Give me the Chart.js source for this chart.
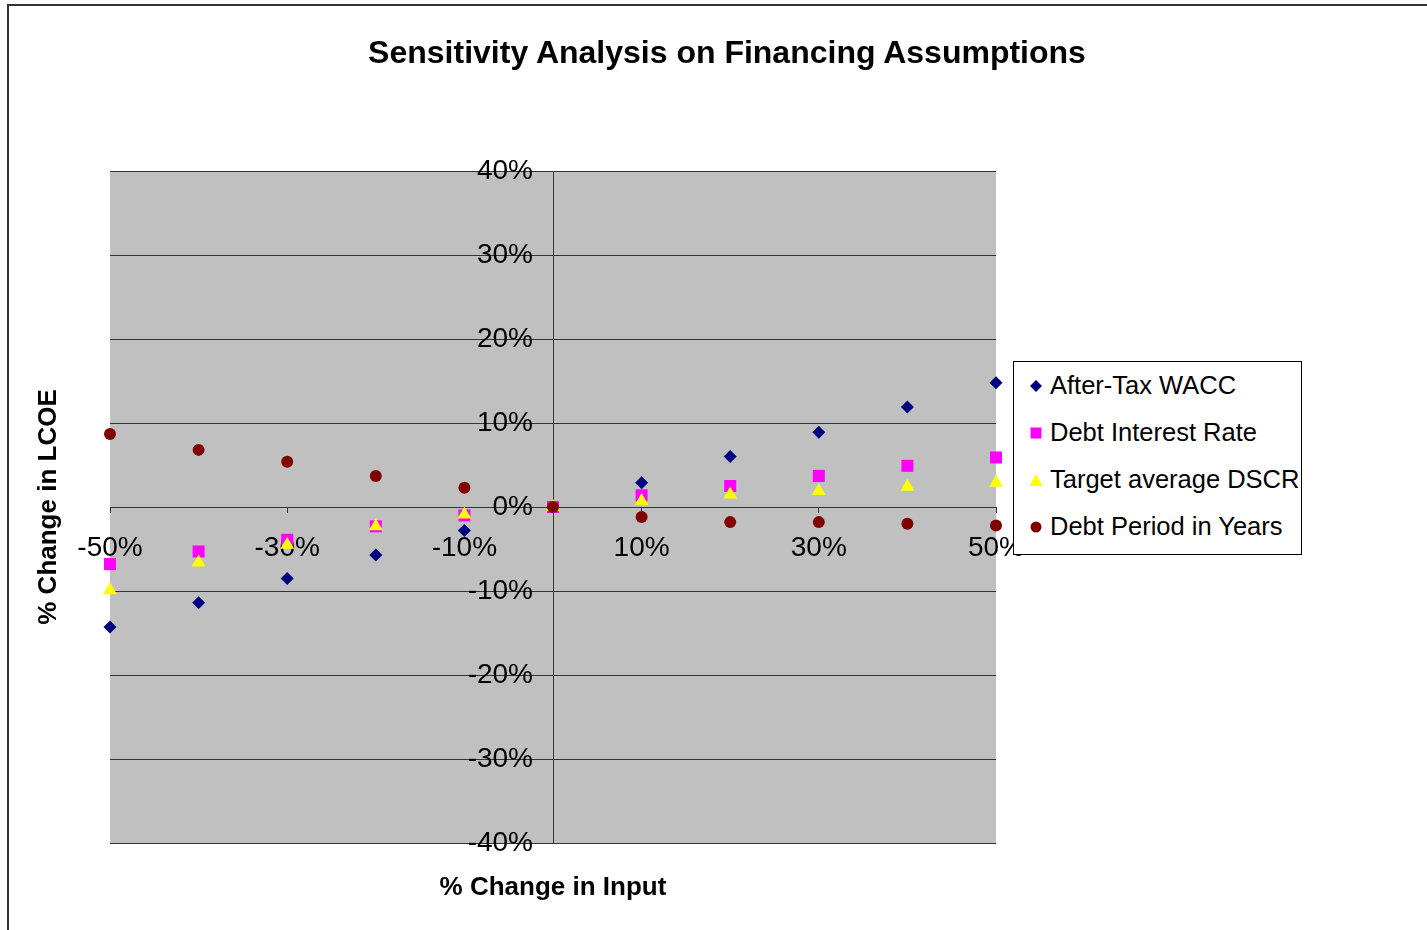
<!DOCTYPE html>
<html>
<head>
<meta charset="utf-8">
<title>Sensitivity Analysis on Financing Assumptions</title>
<script src="https://cdn.jsdelivr.net/npm/chart.js@4.4.0/dist/chart.umd.min.js"></script>
<style>
    html, body { margin: 0; padding: 0; background: #fff; }
    body { width: 1427px; height: 930px; overflow: hidden; position: relative; font-family: 'Liberation Sans', Arial, sans-serif; }
    #frame { position: absolute; left: 7px; top: 4px; width: 1600px; height: 1100px; border-top: 2px solid #333; border-left: 2px solid #333; }
    #chartWrap { position: absolute; left: 0; top: 0; width: 1427px; height: 930px; }
    #chartTitle { position: absolute; left: 727px; top: 33px; transform: translateX(-50%); white-space: nowrap;
                  font-weight: bold; font-size: 32px; line-height: 38px; color: #000; }
    #legendBox { position: absolute; left: 1013px; top: 361px; width: 287px; height: 192px; border: 1px solid #000; background: #fff; }
    .legend-row { display: flex; align-items: center; height: 47px; font-size: 25.5px; color: #000; white-space: nowrap; }
    .legend-row svg { margin-left: 15px; margin-right: 7px; flex: none; }
</style>
</head>
<body>
<div id="frame"></div>
<div id="chartWrap"><canvas id="sensChart" width="1427" height="930"></canvas></div>
<div id="chartTitle">Sensitivity Analysis on Financing Assumptions</div>
<div id="legendBox"></div>

<script>
// x values: % change in input
const inputChange = [-50, -40, -30, -20, -10, 0, 10, 20, 30, 40, 50];

// % change in LCOE for each assumption
const afterTaxWacc     = [-14.3, -11.4, -8.5, -5.7, -2.8, 0, 2.9, 6.0, 8.9, 11.9, 14.8];
const debtInterestRate = [-6.8, -5.3, -3.9, -2.3, -1.0, 0, 1.4, 2.5, 3.7, 4.9, 5.9];
const targetAvgDscr    = [-9.9, -6.6, -4.5, -2.3, -0.9, 0, 0.7, 1.5, 1.9, 2.4, 2.9];
const debtPeriodYears  = [8.7, 6.8, 5.4, 3.7, 2.3, 0, -1.2, -1.8, -1.8, -2.0, -2.2];

const seriesNames = ['After-Tax WACC', 'Debt Interest Rate', 'Target average DSCR', 'Debt Period in Years'];
const seriesColors = ['#000080', '#FF00FF', '#FFFF00', '#800000'];
const seriesShapes = ['rectRot', 'rect', 'triangle', 'circle'];
const seriesRadius = [6.5, 8.5, 8, 6];

// axis ticks
const xTickRange = { min: -50, max: 50, step: 20 };
const yTickRange = { min: -40, max: 40, step: 10 };

const FONT = "'Liberation Sans', Arial, sans-serif";
const GRID_COLOR = '#333333';

function toPoints(values) {
    return inputChange.map((x, i) => ({ x: x, y: values[i] }));
}

// grey plot area like the Excel chart
const plotBackground = {
    id: 'plotBackground',
    beforeDraw(chart) {
        const { ctx, chartArea } = chart;
        ctx.save();
        ctx.fillStyle = '#C0C0C0';
        ctx.fillRect(chartArea.left, chartArea.top, chartArea.right - chartArea.left, chartArea.bottom - chartArea.top);
        ctx.restore();
    }
};

function buildDatasets() {
    const allValues = [afterTaxWacc, debtInterestRate, targetAvgDscr, debtPeriodYears];
    return allValues.map((values, i) => ({
        label: seriesNames[i],
        data: toPoints(values),
        pointStyle: seriesShapes[i],
        pointRadius: seriesRadius[i],
        pointHoverRadius: seriesRadius[i],
        backgroundColor: seriesColors[i],
        borderColor: seriesColors[i],
        borderWidth: 0,
        showLine: false,
        clip: false,
        order: allValues.length - i   // later series drawn on top
    }));
}

function renderLegend() {
    const box = document.getElementById('legendBox');
    const markers = [
        c => `<polygon points="7,1 13,7 7,13 1,7" fill="${c}"/>`,
        c => `<rect x="1.5" y="1.5" width="11" height="11" fill="${c}"/>`,
        c => `<polygon points="7,1 13.5,13 0.5,13" fill="${c}"/>`,
        c => `<circle cx="7" cy="7" r="5.5" fill="${c}"/>`
    ];
    box.innerHTML = '';
    seriesNames.forEach((name, i) => {
        box.innerHTML += `
            <div class="legend-row">
                <svg width="14" height="14" viewBox="0 0 14 14">${markers[i](seriesColors[i])}</svg>
                <span>${name}</span>
            </div>`;
    });
}

function renderChart() {
    const ctx = document.getElementById('sensChart').getContext('2d');
    new Chart(ctx, {
        type: 'scatter',
        data: { datasets: buildDatasets() },
        plugins: [plotBackground],
        options: {
            responsive: false,
            animation: false,
            layout: { padding: { left: 33, right: 431, top: 171, bottom: 0 } },
            plugins: {
                legend: { display: false },
                title: { display: false },
                tooltip: { enabled: false }
            },
            scales: {
                // both axes cross at zero, which is the middle of each range
                x: {
                    type: 'linear',
                    position: 'center',
                    min: xTickRange.min, max: xTickRange.max,
                    ticks: {
                        stepSize: xTickRange.step,
                        callback: v => v + '%',
                        color: '#000',
                        font: { family: FONT, size: 28 },
                        padding: 19,
                        maxRotation: 0
                    },
                    grid: { drawOnChartArea: false, drawTicks: true, tickLength: 5, color: GRID_COLOR, lineWidth: 1 },
                    border: { display: true, color: GRID_COLOR, width: 1 }
                },
                y: {
                    type: 'linear',
                    position: 'center',
                    min: yTickRange.min, max: yTickRange.max,
                    ticks: {
                        stepSize: yTickRange.step,
                        callback: v => v + '%',
                        color: '#000',
                        font: { family: FONT, size: 28 },
                        padding: 13
                    },
                    grid: { drawOnChartArea: true, drawTicks: true, tickLength: 7, color: GRID_COLOR, lineWidth: 1 },
                    border: { display: true, color: GRID_COLOR, width: 1 }
                },
                // title-only axes sitting at the outer edges
                xTitle: {
                    type: 'linear',
                    position: 'bottom',
                    ticks: { display: false },
                    grid: { display: false, drawTicks: false },
                    border: { display: false },
                    title: {
                        display: true,
                        text: '% Change in Input',
                        color: '#000',
                        font: { family: FONT, size: 26, weight: 'bold' },
                        padding: { top: 29.4, bottom: 26.4 }
                    }
                },
                yTitle: {
                    type: 'linear',
                    position: 'left',
                    ticks: { display: false },
                    grid: { display: false, drawTicks: false },
                    border: { display: false },
                    title: {
                        display: true,
                        text: '% Change in LCOE',
                        color: '#000',
                        font: { family: FONT, size: 26, weight: 'bold' },
                        padding: { top: 0, bottom: 45.8 }
                    }
                }
            }
        }
    });
}

document.addEventListener('DOMContentLoaded', () => {
    renderLegend();
    renderChart();
});
</script>
</body>
</html>
